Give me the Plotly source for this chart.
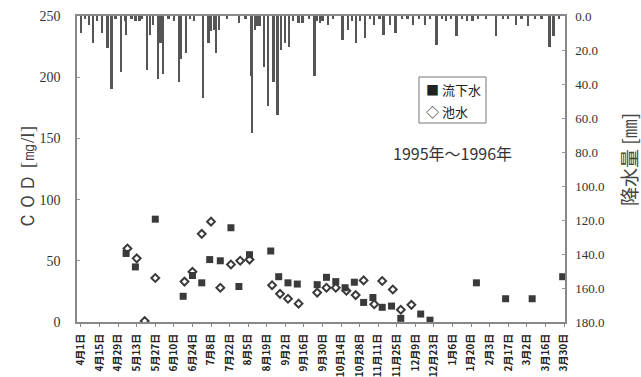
import pandas as pd
import plotly.graph_objects as go

# ---- data ----
tick_labels = ["4月1日", "4月15日", "4月29日", "5月13日", "5月27日", "6月10日", "6月24日",
               "7月8日", "7月22日", "8月5日", "8月19日", "9月2日", "9月16日", "9月30日",
               "10月14日", "10月28日", "11月11日", "11月25日", "12月9日", "12月23日",
               "1月6日", "1月20日", "2月3日", "2月17日", "3月2日", "3月16日", "3月30日"]

flow_dates = ["1995-05-05", "1995-05-12", "1995-05-27", "1995-06-17", "1995-06-24", "1995-07-01",
              "1995-07-07", "1995-07-15", "1995-07-23", "1995-07-29", "1995-08-06", "1995-08-22",
              "1995-08-28", "1995-09-04", "1995-09-11", "1995-09-26", "1995-10-03", "1995-10-10",
              "1995-10-17", "1995-10-24", "1995-10-31", "1995-11-07", "1995-11-14", "1995-11-21",
              "1995-11-28", "1995-12-13", "1995-12-20", "1996-01-24", "1996-02-15", "1996-03-06",
              "1996-03-29"]
flow_cod = [56, 45, 84, 21, 38, 32, 51, 50, 77, 29, 55, 58, 37, 32, 31, 30.5, 36.5, 33,
            28, 32.5, 16, 20, 12, 13, 3, 6.5, 1.5, 32, 19, 19, 37]

pond_dates = ["1995-05-06", "1995-05-13", "1995-05-19", "1995-05-27", "1995-06-18", "1995-06-24",
              "1995-07-01", "1995-07-08", "1995-07-15", "1995-07-23", "1995-07-30", "1995-08-06",
              "1995-08-23", "1995-08-29", "1995-09-04", "1995-09-12", "1995-09-26", "1995-10-03",
              "1995-10-10", "1995-10-18", "1995-10-25", "1995-10-31", "1995-11-08", "1995-11-14",
              "1995-11-22", "1995-11-28", "1995-12-06"]
pond_cod = [60, 52, 0.8, 36, 33, 41, 72, 82, 28, 47, 50, 51, 30, 23, 19, 15, 24, 28,
            28, 25.5, 22, 34, 14.5, 33.5, 26.5, 10, 14]

rain_dates = ["1995-04-01", "1995-04-04", "1995-04-07", "1995-04-10", "1995-04-13", "1995-04-17",
              "1995-04-21", "1995-04-24", "1995-04-27", "1995-05-01", "1995-05-04", "1995-05-05",
              "1995-05-09", "1995-05-12", "1995-05-15", "1995-05-17", "1995-05-21", "1995-05-23",
              "1995-05-25", "1995-05-29", "1995-05-31", "1995-06-02", "1995-06-06", "1995-06-10",
              "1995-06-14", "1995-06-15", "1995-06-19", "1995-06-22", "1995-06-25", "1995-07-02",
              "1995-07-06", "1995-07-08", "1995-07-10", "1995-07-12", "1995-07-14", "1995-07-20",
              "1995-07-29", "1995-08-03", "1995-08-07", "1995-08-08", "1995-08-10", "1995-08-12",
              "1995-08-14", "1995-08-17", "1995-08-20", "1995-08-24", "1995-08-27", "1995-08-30",
              "1995-09-02", "1995-09-05", "1995-09-08", "1995-09-12", "1995-09-15", "1995-09-20",
              "1995-09-24", "1995-09-26", "1995-09-28", "1995-09-30", "1995-10-04", "1995-10-08",
              "1995-10-15", "1995-10-19", "1995-10-22", "1995-10-25", "1995-10-28", "1995-11-01",
              "1995-11-05", "1995-11-08", "1995-11-12", "1995-11-15", "1995-11-20", "1995-11-24",
              "1995-11-29", "1995-12-03", "1995-12-07", "1995-12-12", "1995-12-16", "1995-12-20",
              "1995-12-25", "1995-12-29", "1996-01-01", "1996-01-05", "1996-01-09", "1996-01-13",
              "1996-01-17", "1996-01-21", "1996-01-25", "1996-01-31", "1996-02-08", "1996-02-13",
              "1996-02-17", "1996-02-23", "1996-02-27", "1996-03-03", "1996-03-08", "1996-03-13",
              "1996-03-19", "1996-03-22", "1996-03-26"]
rain_mm = [10, 2, 5, 16, 3, 10, 19, 43, 2, 33, 3, 11, 2, 3, 3, 2, 32, 11, 5, 37, 16, 34, 2, 3,
           39, 25, 22, 2, 3, 48, 16, 9, 8, 22, 8, 2, 4, 2, 35, 69, 8, 6, 6, 30, 53, 39, 58, 20,
           16, 18, 3, 4, 4, 2, 35, 3, 4, 3, 5, 2, 14, 8, 3, 16, 3, 13, 2, 5, 2, 11, 5, 10, 2, 2,
           5, 2, 5, 2, 17, 2, 3, 2, 12, 2, 3, 3, 2, 2, 12, 2, 2, 5, 2, 6, 2, 2, 18, 12, 2]

tick_vals = pd.date_range("1995-04-01", periods=len(tick_labels), freq="14D")

serif = "Liberation Serif, Times New Roman, serif"
jp = "Noto Sans CJK JP, sans-serif"
ink = "#3a3a3a"

fig = go.Figure()

fig.add_trace(go.Bar(
    x=pd.to_datetime(rain_dates), y=rain_mm, yaxis="y2",
    width=1.7 * 86400000, marker=dict(color="#555555", line=dict(width=0)),
    showlegend=False, name="降水量"))

fig.add_trace(go.Scatter(
    x=pd.to_datetime(flow_dates), y=flow_cod, mode="markers", name="流下水",
    showlegend=False,
    marker=dict(symbol="square", size=7, color=ink)))

fig.add_trace(go.Scatter(
    x=pd.to_datetime(pond_dates), y=pond_cod, mode="markers", name="池水",
    showlegend=False,
    marker=dict(symbol="diamond-open", size=6, color=ink, line=dict(width=2, color=ink))))

pw, ph = 641 - 77 - 76, 377 - 16 - 55


def px(x):
    return (x - 77) / pw


def py(y):
    return (322 - y) / ph


fig.update_layout(
    width=641, height=377,
    margin=dict(l=77, r=76, t=16, b=55),
    paper_bgcolor="white", plot_bgcolor="white",
    bargap=0, showlegend=False,
    xaxis=dict(
        type="date", range=["1995-03-29", "1996-03-30 18:00"],
        tickvals=tick_vals, ticktext=tick_labels, tickangle=-90,
        tickfont=dict(family=jp, size=10, color="#222", weight="bold"),
        ticks="outside", ticklen=3, tickcolor="#888", automargin=False,
        showline=True, linecolor="#888", linewidth=1.5, mirror=True,
        showgrid=False, zeroline=False, ticklabelstandoff=3),
    yaxis=dict(
        range=[0, 250], tickvals=[0, 50, 100, 150, 200, 250], automargin=False,
        tickfont=dict(family=serif, size=14, color="#333"),
        ticks="inside", ticklen=3, tickcolor="#999",
        showline=True, linecolor="#888", linewidth=1.5,
        showgrid=False, zeroline=False, ticklabelstandoff=12),
    yaxis2=dict(
        overlaying="y", side="right", range=[180, 0], automargin=False,
        tickvals=[0, 20, 40, 60, 80, 100, 120, 140, 160, 180], tickformat=".1f",
        tickfont=dict(family=serif, size=13, color="#333"),
        ticks="inside", ticklen=3, tickcolor="#999",
        showline=True, linecolor="#888", linewidth=1.5,
        showgrid=False, zeroline=False, ticklabelstandoff=6),
    shapes=[
        dict(type="rect", xref="paper", yref="paper", x0=px(419), x1=px(486),
             y0=py(123), y1=py(77), line=dict(color="#777", width=1), fillcolor="white"),
    ],
    annotations=[
        dict(text="■ 流下水", x=px(424), y=py(89), xref="paper", yref="paper",
             xanchor="left", yanchor="middle", align="left", showarrow=False,
             font=dict(family=jp, size=13, color="#222")),
        dict(text="◇ 池水", x=px(424), y=py(111), xref="paper", yref="paper",
             xanchor="left", yanchor="middle", align="left", showarrow=False,
             font=dict(family=jp, size=13, color="#222")),
        dict(text="1995年～1996年", x=px(452), y=py(153), xref="paper", yref="paper",
             xanchor="center", yanchor="middle", showarrow=False,
             font=dict(family=jp, size=16, color="#333")),
        dict(text="ＣＯＤ [㎎/l]", x=px(27), y=py(178), xref="paper", yref="paper",
             xanchor="center", yanchor="middle", showarrow=False, textangle=-90,
             font=dict(family=serif, size=19, color="#444")),
        dict(text="降水量 [㎜]", x=px(628), y=py(160), xref="paper", yref="paper",
             xanchor="center", yanchor="middle", showarrow=False, textangle=-90,
             font=dict(family="Noto Sans CJK JP, serif", size=19, color="#444")),
    ],
)

fig.write_html("out.html")
